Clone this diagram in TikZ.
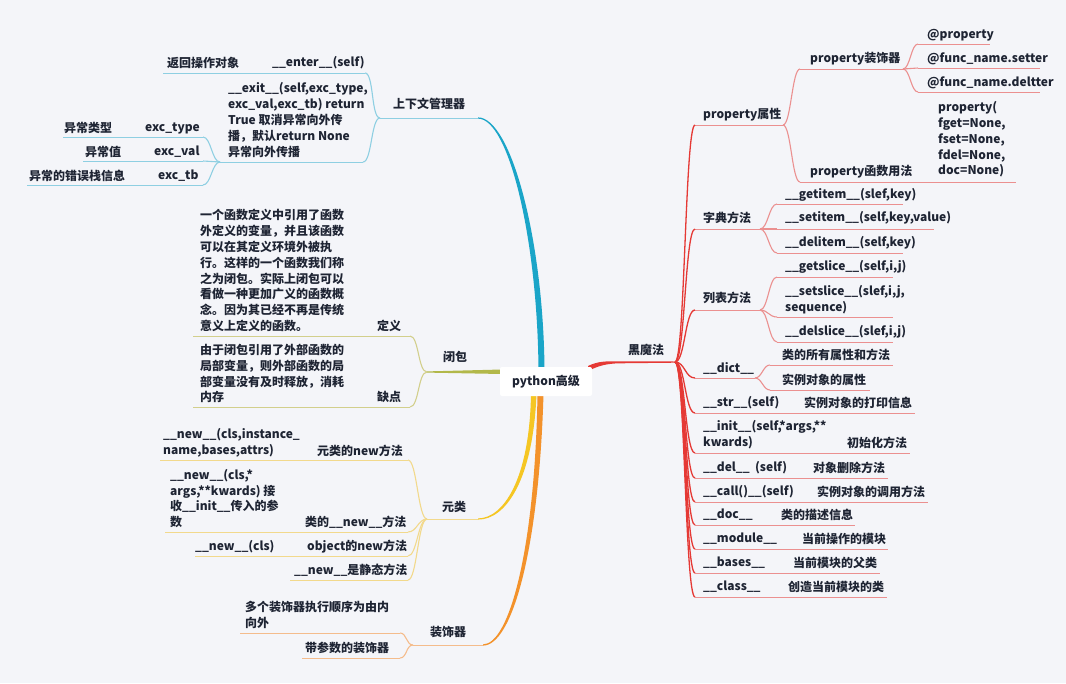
\documentclass[tikz,border=0pt]{standalone}
\usepackage{fontspec}
\setmainfont{Noto Sans CJK SC}
\definecolor{bg}{HTML}{F4F5F9}
\definecolor{ink}{HTML}{1E2433}
\definecolor{blueM}{HTML}{1AA5C8}
\definecolor{blueL}{HTML}{8ECFE2}
\definecolor{oliveM}{HTML}{B2B84A}
\definecolor{oliveL}{HTML}{D2CF8C}
\definecolor{yelM}{HTML}{F5C623}
\definecolor{yelL}{HTML}{F2D98C}
\definecolor{orM}{HTML}{F3922B}
\definecolor{orL}{HTML}{F4BC8C}
\definecolor{redM}{HTML}{E53935}
\definecolor{redL}{HTML}{EB9090}
\newcommand{\mmln}[4]{\draw[#1] (#2) .. controls +(#4,0) and +({-(#4)},0) .. (#3);}
\begin{document}
\begin{tikzpicture}[x=1pt,y=-1pt,
  tx/.style={anchor=west,inner sep=0pt,text=ink,font=\bfseries\fontsize{12}{15.8}\selectfont,align=left},
  ul/.style={line width=1pt},
  cn/.style={line width=1.1pt}]
\fill[bg] (0,0) rectangle (1066,683);
\useasboundingbox (0,0) rectangle (1066,683);

% ---------- main branches (tapered) ----------
\fill[blueM] (544.5,370) .. controls (543.5,240) and (511,117.4) .. (478,117.4)
  -- (478,118.6) .. controls (509,118.6) and (537.5,240) .. (538.5,370) -- cycle;
\fill[yelM] (536.5,394) .. controls (533,480) and (506,519.6) .. (478,519.6)
  -- (478,518.4) .. controls (503,518.4) and (529.5,480) .. (531,394) -- cycle;
\fill[orM] (543.5,394) .. controls (539,550) and (512,645.6) .. (483,645.6)
  -- (483,644.4) .. controls (509,644.4) and (535,550) .. (537.5,394) -- cycle;
\fill[oliveM] (502,369.5) -- (427,371.4) -- (427,372.6) -- (502,374) -- cycle;
\fill[redM] (588,366) .. controls (598,361.2) and (605,361.2) .. (620,361.3) -- (675,361.5)
  -- (675,362.7) -- (620,363.3) .. controls (606,363.5) and (598,366) .. (588,371) -- cycle;

\node[fill=white,rounded corners=2pt,minimum width=92,minimum height=29,inner sep=0pt,
  text=ink,font=\bfseries\fontsize{12}{15}\selectfont] (root) at (546,381.5) {python高级};

% ---------- 上下文管理器 ----------
\draw[ul,blueL] (380,118) coordinate (ctxL) -- (478,118) coordinate (ctxR);
\draw[ul,blueL] (163,73) coordinate (enterL) -- (365,73) coordinate (enterR);
\draw[ul,blueL] (220,162) coordinate (exitL) -- (363,162) coordinate (exitR);
\draw[ul,blueL] (63,137) -- (203,137) coordinate (typeR);
\draw[ul,blueL] (83,161) -- (203,161) coordinate (valR);
\draw[ul,blueL] (27,185) -- (203,185) coordinate (tbR);
\mmln{cn,blueL}{ctxL}{enterR}{-9}
\mmln{cn,blueL}{ctxL}{exitR}{-9}
\mmln{cn,blueL}{exitL}{typeR}{-8}
\mmln{cn,blueL}{exitL}{valR}{-8}
\mmln{cn,blueL}{exitL}{tbR}{-8}
\node[tx] (ctx) at (393,104) {上下文管理器};
\node[tx] (ret) at (167,63) {返回操作对象};
\node[tx] (enter) at (272,63) {\_\_enter\_\_(self)};
\node[tx] (exit) at (228,120) {\_\_exit\_\_(self,exc\_type,\\exc\_val,exc\_tb) return\\True 取消异常向外传\\播，默认return None\\异常向外传播};
\node[tx] (typeA) at (64,128) {异常类型};
\node[tx] (typeB) at (145,128) {exc\_type};
\node[tx] (valA) at (85,152) {异常值};
\node[tx] (valB) at (154,152) {exc\_val};
\node[tx] (tbA) at (29,176) {异常的错误栈信息};
\node[tx] (tbB) at (158,176) {exc\_tb};

% ---------- 闭包 ----------
\coordinate (bbL) at (427,372);
\draw[ul,oliveL] (193,336) -- (410,336) coordinate (defR);
\draw[ul,oliveL] (193,407) -- (410,407) coordinate (queR);
\mmln{cn,oliveL}{bbL}{defR}{-9}
\mmln{cn,oliveL}{bbL}{queR}{-9}
\node[tx] (bb) at (443,357) {闭包};
\node[tx] (def) at (377,326) {定义};
\node[tx] (defT) at (200,270.5) {一个函数定义中引用了函数\\外定义的变量，并且该函数\\可以在其定义环境外被执\\行。这样的一个函数我们称\\之为闭包。实际上闭包可以\\看做一种更加广义的函数概\\念。因为其已经不再是传统\\意义上定义的函数。};
\node[tx] (que) at (377,397) {缺点};
\node[tx] (queT) at (200,373.5) {由于闭包引用了外部函数的\\局部变量，则外部函数的局\\部变量没有及时释放，消耗\\内存};

% ---------- 元类 ----------
\draw[ul,yelL] (427,519) coordinate (yuL) -- (478,519);
\draw[ul,yelL] (160,460) -- (408,460) coordinate (n1R);
\draw[ul,yelL] (165,532) -- (408,532) coordinate (n2R);
\draw[ul,yelL] (195,556) -- (408,556) coordinate (n3R);
\draw[ul,yelL] (290,580) -- (408,580) coordinate (n4R);
\mmln{cn,yelL}{yuL}{n1R}{-9}
\mmln{cn,yelL}{yuL}{n2R}{-9}
\mmln{cn,yelL}{yuL}{n3R}{-9}
\mmln{cn,yelL}{yuL}{n4R}{-9}
\node[tx] (yu) at (442,507) {元类};
\node[tx] (n1) at (317,451) {元类的new方法};
\node[tx] (n1T) at (163,443) {\_\_new\_\_(cls,instance\_\\name,bases,attrs)};
\node[tx] (n2) at (305,522) {类的\_\_new\_\_方法};
\node[tx] (n2T) at (170,498.5) {\_\_new\_\_(cls,*\\args,**kwards) 接\\收\_\_init\_\_传入的参\\数};
\node[tx] (n3) at (307,547) {object的new方法};
\node[tx] (n3T) at (195,547) {\_\_new\_\_(cls)};
\node[tx] (n4) at (294,570) {\_\_new\_\_是静态方法};

% ---------- 装饰器 ----------
\draw[ul,orL] (413,645) coordinate (zsL) -- (483,645);
\draw[ul,orL] (240,633) -- (400,633) coordinate (z1R);
\draw[ul,orL] (302,658) -- (400,658) coordinate (z2R);
\mmln{cn,orL}{zsL}{z1R}{-7}
\mmln{cn,orL}{zsL}{z2R}{-7}
\node[tx] (zs) at (430,632) {装饰器};
\node[tx] (z1) at (245,615) {多个装饰器执行顺序为由内\\向外};
\node[tx] (z2) at (305,648) {带参数的装饰器};

% ---------- 黑魔法 ----------
\coordinate (hmR) at (675,362);
\node[tx] (hm) at (628,350) {黑魔法};
% level-1 underlines
\draw[ul,redL] (695,125) coordinate (pA) -- (783,125) coordinate (pAR);
\draw[ul,redL] (695,229) coordinate (pB) -- (760,229) coordinate (pBR);
\draw[ul,redL] (695,310) coordinate (pC) -- (760,310) coordinate (pCR);
\draw[ul,redL] (695,378) coordinate (pD) -- (755,378) coordinate (pDR);
\draw[ul,redL] (695,413) coordinate (pE) -- (915,413);
\draw[ul,redL] (695,453) coordinate (pF) -- (910,453);
\draw[ul,redL] (695,478) coordinate (pG) -- (888,478);
\draw[ul,redL] (695,502) coordinate (pH) -- (928,502);
\draw[ul,redL] (695,525) coordinate (pI) -- (855,525);
\draw[ul,redL] (695,549) coordinate (pJ) -- (888,549);
\draw[ul,redL] (695,573) coordinate (pK) -- (880,573);
\draw[ul,redL] (695,597) coordinate (pL) -- (887,597);
\foreach \t in {pA,pB,pC,pD,pE,pF,pG,pH,pI,pJ,pK,pL}{
  \draw[redM,line width=1.3pt] (hmR) .. controls +(10,0) and +(-10,0) .. (\t);
}
% property
\draw[ul,redL] (800,69) coordinate (pdL) -- (903,69) coordinate (pdR);
\draw[ul,redL] (800,182) coordinate (pfL) -- (1016,182);
\draw[ul,redL] (918,44) coordinate (q1) -- (990,44);
\draw[ul,redL] (918,68) coordinate (q2) -- (1040,68);
\draw[ul,redL] (918,92) coordinate (q3) -- (1040,92);
\mmln{cn,redL}{pAR}{pdL}{8}
\mmln{cn,redL}{pAR}{pfL}{8}
\mmln{cn,redL}{pdR}{q1}{7}
\mmln{cn,redL}{pdR}{q2}{7}
\mmln{cn,redL}{pdR}{q3}{7}
\node[tx] (pa) at (703,115) {property属性};
\node[tx] (pd) at (810,59) {property装饰器};
\node[tx] (q1t) at (927,35) {@property};
\node[tx] (q2t) at (927,59) {@func\_name.setter};
\node[tx] (q3t) at (927,83) {@func\_name.deltter};
\node[tx] (pf) at (810,172) {property函数用法};
\node[tx] (pft) at (938,139.5) {property(\\fget=None,\\fset=None,\\fdel=None,\\doc=None)};
% dict methods
\draw[ul,redL] (777,204) coordinate (d1) -- (903,204);
\draw[ul,redL] (777,229) coordinate (d2) -- (934,229);
\draw[ul,redL] (777,253) coordinate (d3) -- (903,253);
\mmln{cn,redL}{pBR}{d1}{8}
\mmln{cn,redL}{pBR}{d2}{8}
\mmln{cn,redL}{pBR}{d3}{8}
\node[tx] (pb) at (703,218) {字典方法};
\node[tx] (d1t) at (785,195) {\_\_getitem\_\_(slef,key)};
\node[tx] (d2t) at (785,218) {\_\_setitem\_\_(self,key,value)};
\node[tx] (d3t) at (785,243) {\_\_delitem\_\_(self,key)};
% list methods
\draw[ul,redL] (777,277) coordinate (l1) -- (893,277);
\draw[ul,redL] (777,317) coordinate (l2) -- (893,317);
\draw[ul,redL] (777,342) coordinate (l3) -- (893,342);
\mmln{cn,redL}{pCR}{l1}{8}
\mmln{cn,redL}{pCR}{l2}{8}
\mmln{cn,redL}{pCR}{l3}{8}
\node[tx] (pc) at (703,298) {列表方法};
\node[tx] (l1t) at (785,267) {\_\_getslice\_\_(self,i,j)};
\node[tx] (l2t) at (785,299.5) {\_\_setslice\_\_(slef,i,j,\\sequence)};
\node[tx] (l3t) at (785,332) {\_\_delslice\_\_(slef,i,j)};
% __dict__
\draw[ul,redL] (770,365) coordinate (e1) -- (893,365);
\draw[ul,redL] (770,390) coordinate (e2) -- (870,390);
\mmln{cn,redL}{pDR}{e1}{7}
\mmln{cn,redL}{pDR}{e2}{7}
\node[tx] (pd2) at (703,368) {\_\_dict\_\_};
\node[tx] (e1t) at (782,355) {类的所有属性和方法};
\node[tx] (e2t) at (782,380) {实例对象的属性};
% single items
\node[tx] (pe) at (703,403) {\_\_str\_\_(self)};
\node[tx] (pet) at (804,403) {实例对象的打印信息};
\node[tx] (pff) at (703,435) {\_\_init\_\_(self,*args,**\\kwards)};
\node[tx] (pfft) at (847,443) {初始化方法};
\node[tx] (pg) at (703,468) {\_\_del\_\_~ (self)};
\node[tx] (pgt) at (813,468) {对象删除方法};
\node[tx] (ph) at (703,492) {\_\_call()\_\_(self)};
\node[tx] (pht) at (817,492) {实例对象的调用方法};
\node[tx] (pi) at (703,515) {\_\_doc\_\_};
\node[tx] (pit) at (781,515) {类的描述信息};
\node[tx] (pj) at (703,539) {\_\_module\_\_};
\node[tx] (pjt) at (802,539) {当前操作的模块};
\node[tx] (pk) at (703,563) {\_\_bases\_\_};
\node[tx] (pkt) at (793,563) {当前模块的父类};
\node[tx] (pl) at (703,587) {\_\_class\_\_};
\node[tx] (plt) at (788,587) {创造当前模块的类};
\end{tikzpicture}
\end{document}
